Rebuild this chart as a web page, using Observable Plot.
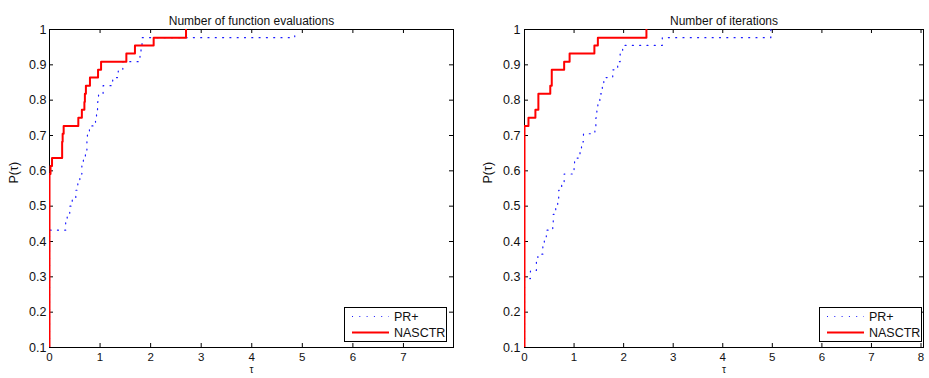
<!DOCTYPE html>
<html><head><meta charset="utf-8">
<script src="https://cdn.jsdelivr.net/npm/d3@7"></script>
<script src="https://cdn.jsdelivr.net/npm/@observablehq/plot@0.6"></script>
<style>
body{margin:0;background:#fff;}
#wrap{position:relative;width:929px;height:378px;overflow:hidden;font-family:"Liberation Sans",Arial,Helvetica,sans-serif;}
.panel{position:absolute;top:0;}
.legend{position:absolute;border:1px solid #000;background:#fff;box-sizing:border-box;}
</style></head><body><div id="wrap"></div>
<script>
// ---- Tick labels ----
const yTicks = [0.1, 0.2, 0.3, 0.4, 0.5, 0.6, 0.7, 0.8, 0.9, 1];
const xTicksFev = [0, 1, 2, 3, 4, 5, 6, 7];
const xTicksIter = [0, 1, 2, 3, 4, 5, 6, 7, 8];
const seriesNames = ["PR+", "NASCTR"];
const titles = ["Number of function evaluations", "Number of iterations"];

// ---- Panel 1: number of function evaluations ----
const fevPRTau = [0, 0, 0.32, 0.35, 0.40, 0.45, 0.52, 0.56, 0.60, 0.64, 0.67, 0.71, 0.74, 0.75, 0.79, 0.91, 0.93, 0.95, 0.97, 1.06, 1.25, 1.36, 1.45, 1.79, 1.81, 1.83, 4.85];
const fevPRP   = [0, 0.432, 0.455, 0.477, 0.5, 0.523, 0.545, 0.568, 0.591, 0.614, 0.636, 0.659, 0.682, 0.705, 0.727, 0.75, 0.773, 0.795, 0.818, 0.841, 0.864, 0.886, 0.909, 0.932, 0.955, 0.977, 1.0];
const fevNASTau = [0, 0, 0.02, 0.05, 0.25, 0.26, 0.28, 0.57, 0.64, 0.69, 0.70, 0.72, 0.80, 0.96, 1.02, 1.52, 1.69, 2.06, 2.70];
const fevNASP   = [0, 0.591, 0.614, 0.636, 0.682, 0.705, 0.727, 0.75, 0.773, 0.795, 0.818, 0.841, 0.864, 0.886, 0.909, 0.932, 0.955, 0.977, 1.0];

// ---- Panel 2: number of iterations ----
const itPRTau = [0, 0, 0.12, 0.24, 0.27, 0.37, 0.40, 0.44, 0.57, 0.58, 0.63, 0.67, 0.69, 0.75, 0.80, 1.00, 1.01, 1.12, 1.15, 1.19, 1.42, 1.44, 1.46, 1.48, 1.52, 1.57, 1.60, 1.78, 1.88, 1.93, 1.98, 2.78, 4.97];
const itPRP   = [0, 0.295, 0.318, 0.341, 0.364, 0.386, 0.409, 0.432, 0.455, 0.477, 0.5, 0.523, 0.545, 0.568, 0.591, 0.614, 0.636, 0.659, 0.682, 0.705, 0.727, 0.75, 0.773, 0.795, 0.818, 0.841, 0.864, 0.886, 0.909, 0.932, 0.955, 0.977, 1.0];
const itNASTau = [0, 0, 0.08, 0.22, 0.28, 0.52, 0.55, 0.80, 0.91, 1.41, 1.48, 2.46];
const itNASP   = [0, 0.727, 0.75, 0.773, 0.818, 0.841, 0.886, 0.909, 0.932, 0.955, 0.977, 1.0];

const FONT = '"Liberation Sans", Arial, Helvetica, sans-serif';
const H = 378, MT = 29, MB = 31;

function rows(tau, p) { return tau.map((t, i) => ({t, p: p[i]})); }

function panel({title, xMax, xTicks, width, marginLeft, marginRight, yPad, ylabDx, pr, nas}) {
  const innerW = width - marginLeft - marginRight;
  const innerH = H - MT - MB;
  return Plot.plot({
    width, height: H, marginLeft, marginRight, marginTop: MT, marginBottom: MB,
    x: {domain: [0, xMax]},
    y: {domain: [0.1, 1]},
    style: {fontFamily: FONT, fontSize: "12px", color: "#111", background: "transparent", overflow: "visible"},
    marks: [
      Plot.frame({stroke: "#000", strokeWidth: 1}),
      Plot.ruleX(xTicks, {x: d => d, insetTop: innerH - 4, stroke: "#000"}),
      Plot.ruleX(xTicks, {x: d => d, insetBottom: innerH - 4, stroke: "#000"}),
      Plot.ruleY(yTicks, {y: d => d, insetRight: innerW - 4, stroke: "#000"}),
      Plot.ruleY(yTicks, {y: d => d, insetLeft: innerW - 4, stroke: "#000"}),
      Plot.axisX(xTicks, {tickSize: 0, tickPadding: 5, label: null, fontSize: 11.5}),
      Plot.axisY(yTicks, {tickSize: 0, tickPadding: yPad, label: null, fontSize: 12.5, tickFormat: d3.format("~g")}),
      Plot.line(pr, {x: "t", y: "p", curve: "step-after", stroke: "#1a1aff", strokeWidth: 1.2, strokeDasharray: "1,6.3", clip: true}),
      Plot.line(nas, {x: "t", y: "p", curve: "step-after", stroke: "#ff0000", strokeWidth: 2, clip: true}),
      Plot.text([title], {text: d => d, frameAnchor: "top", dy: -13, fontSize: 12}),
      Plot.text(["P(\u03c4)"], {text: d => d, frameAnchor: "left", rotate: -90, dx: ylabDx, dy: -5, fontSize: 12.5}),
      Plot.text(["\u03c4"], {text: d => d, frameAnchor: "bottom", dy: 25.5, fontSize: 10})
    ]
  });
}

const wrap = document.getElementById("wrap");

function place(el, left) {
  el.classList.add("panel");
  el.style.left = left + "px";
  wrap.appendChild(el);
}

place(panel({
  title: titles[0], xMax: 7.99, xTicks: xTicksFev, width: 470, marginLeft: 49, marginRight: 17,
  yPad: 3, ylabDx: -36, pr: rows(fevPRTau, fevPRP), nas: rows(fevNASTau, fevNASP)
}), 0);

place(panel({
  title: titles[1], xMax: 8.05, xTicks: xTicksIter, width: 459, marginLeft: 54, marginRight: 6,
  yPad: 4, ylabDx: -37, pr: rows(itPRTau, itPRP), nas: rows(itNASTau, itNASP)
}), 470);

function legend(left, top, width, sampleX0, sampleX1, textX) {
  const div = document.createElement("div");
  div.className = "legend";
  div.style.left = left + "px";
  div.style.top = top + "px";
  div.style.width = width + "px";
  div.style.height = "35px";
  const ns = "http://www.w3.org/2000/svg";
  const svg = document.createElementNS(ns, "svg");
  svg.setAttribute("width", width - 2);
  svg.setAttribute("height", 33);
  svg.style.display = "block";
  const styles = [
    {stroke: "#1a1aff", w: 1.2, dash: "1,6.3"},
    {stroke: "#ff0000", w: 2, dash: null}
  ];
  seriesNames.forEach((name, i) => {
    const yy = 8.5 + i * 16;
    const ln = document.createElementNS(ns, "line");
    ln.setAttribute("x1", sampleX0); ln.setAttribute("x2", sampleX1);
    ln.setAttribute("y1", yy); ln.setAttribute("y2", yy);
    ln.setAttribute("stroke", styles[i].stroke);
    ln.setAttribute("stroke-width", styles[i].w);
    if (styles[i].dash) ln.setAttribute("stroke-dasharray", styles[i].dash);
    svg.appendChild(ln);
    const tx = document.createElementNS(ns, "text");
    tx.setAttribute("x", textX); tx.setAttribute("y", yy + 4.5);
    tx.setAttribute("font-size", "12.5");
    tx.setAttribute("font-family", FONT);
    tx.setAttribute("fill", "#111");
    tx.textContent = name;
    svg.appendChild(tx);
  });
  div.appendChild(svg);
  wrap.appendChild(div);
}

legend(344, 307, 103, 7, 44, 49);
legend(819, 307, 103, 7, 44, 49);
</script></body></html>
